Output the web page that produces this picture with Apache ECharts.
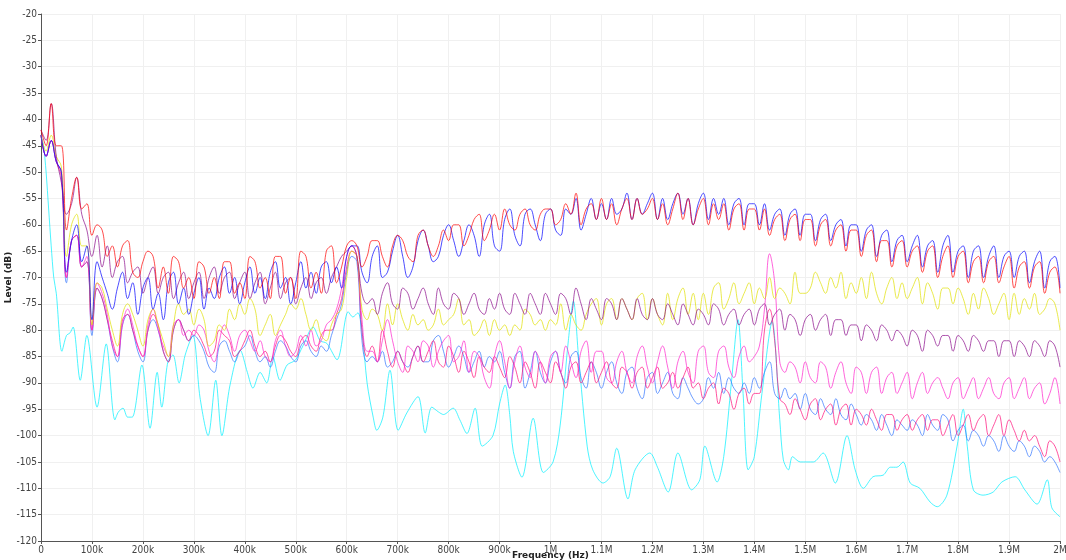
<!DOCTYPE html>
<html><head><meta charset="utf-8">
<script src="https://cdn.jsdelivr.net/npm/echarts@6/dist/echarts.min.js"></script>
<style>html,body{margin:0;padding:0;background:#fff}#c{width:1066px;height:560px}</style>
</head><body><div id="c"></div>
<script>
// Frequency step between samples (Hz) for the oscillating traces
const STEP = 10000;
const xTickLabels = ['0','100k','200k','300k','400k','500k','600k','700k','800k','900k','1M','1.1M','1.2M','1.3M','1.4M','1.5M','1.6M','1.7M','1.8M','1.9M','2M'];

const red = [
-42,-45,-37,-45,-45,-61,-55,-51,-57,-56,
-62,-60,-61,-66,-64,-68,-64,-63,-69,-70,
-67,-65,-66,-72,-68,-73,-66,-67,-72,-70,
-74,-67,-68,-73,-70,-74,-67,-67,-73,-71,
-74,-66,-67,-72,-70,-74,-66,-66,-73,-70,
-74,-65,-66,-72,-69,-73,-65,-64,-71,-68,
-64,-63,-64,-68,-66,-63,-63,-66,-68,-64,
-62,-63,-66,-67,-62,-61,-64,-66,-64,-61,
-63,-60,-60,-64,-62,-59,-58,-63,-61,-58,
-61,-57,-60,-61,-58,-57,-60,-61,-58,-57,
-57,-60,-59,-56,-58,-54,-60,-57,-56,-59,
-55,-59,-56,-60,-57,-55,-59,-55,-58,-57,
-55,-59,-56,-60,-57,-54,-59,-55,-60,-57,
-55,-60,-56,-59,-56,-61,-57,-56,-61,-57,
-57,-61,-57,-62,-59,-58,-63,-59,-58,-63,
-59,-59,-64,-60,-59,-64,-61,-60,-65,-61,
-61,-66,-62,-61,-67,-63,-63,-68,-64,-63,
-68,-65,-64,-69,-65,-64,-70,-66,-64,-70,
-66,-65,-71,-67,-66,-71,-67,-66,-71,-68,
-66,-72,-68,-67,-72,-68,-67,-73,-69,-68,
-73];

const blue = [
-43,-47,-44,-48,-50,-69,-63,-60,-67,-64,
-78,-67,-70,-73,-76,-72,-69,-74,-71,-77,
-72,-70,-76,-73,-78,-71,-69,-75,-72,-77,
-73,-70,-76,-72,-74,-70,-68,-73,-70,-75,
-71,-68,-73,-70,-74,-69,-67,-72,-70,-75,
-71,-67,-72,-69,-73,-68,-67,-71,-68,-72,
-66,-64,-64,-69,-71,-66,-64,-70,-69,-65,
-62,-66,-70,-68,-63,-61,-64,-67,-66,-62,
-60,-63,-66,-63,-60,-62,-66,-60,-58,-64,
-65,-59,-57,-62,-64,-58,-57,-60,-63,-58,
-57,-61,-62,-57,-58,-55,-61,-58,-55,-59,
-56,-59,-55,-58,-57,-54,-59,-55,-58,-56,
-54,-59,-55,-59,-56,-54,-58,-55,-60,-56,
-54,-59,-55,-58,-55,-60,-56,-55,-60,-56,
-56,-60,-56,-61,-58,-57,-62,-58,-57,-62,
-58,-58,-63,-59,-58,-63,-60,-59,-64,-60,
-60,-65,-61,-60,-66,-62,-61,-67,-63,-62,
-67,-64,-62,-68,-64,-63,-69,-64,-62,-69,
-65,-64,-70,-65,-64,-70,-66,-64,-70,-66,
-65,-70,-66,-65,-71,-67,-65,-72,-67,-66,
-72];

const purple = [
-42,-44,-37,-47,-52,-58,-56,-51,-58,-61,
-66,-62,-68,-64,-70,-67,-66,-71,-69,-68,
-73,-70,-68,-73,-70,-69,-74,-71,-69,-74,
-71,-69,-74,-70,-68,-73,-70,-69,-74,-71,
-69,-74,-71,-69,-75,-72,-69,-74,-71,-70,
-75,-72,-70,-74,-71,-70,-73,-70,-68,-66,
-65,-64,-66,-73,-75,-74,-77,-73,-71,-75,
-76,-72,-73,-76,-74,-72,-75,-77,-72,-75,
-76,-73,-74,-77,-75,-73,-76,-77,-74,-76,
-73,-76,-77,-73,-75,-77,-73,-75,-77,-73,
-75,-77,-73,-74,-77,-72,-75,-78,-74,-76,
-78,-74,-75,-78,-74,-76,-78,-74,-77,-78,
-74,-77,-78,-75,-77,-79,-75,-77,-79,-76,
-77,-79,-75,-76,-79,-77,-76,-79,-77,-76,
-79,-76,-75,-79,-77,-76,-80,-77,-78,-81,
-78,-77,-80,-78,-77,-81,-78,-78,-81,-79,
-79,-82,-79,-80,-82,-79,-80,-82,-80,-81,
-83,-80,-81,-84,-80,-81,-83,-81,-81,-84,
-81,-82,-84,-81,-82,-84,-82,-82,-85,-82,
-82,-85,-82,-83,-85,-82,-83,-85,-82,-83,
-87];

const yellow = [
-43,-46,-43,-47,-49,-66,-60,-58,-64,-64,
-79,-71,-72,-76,-80,-83,-77,-75,-77,-80,
-83,-78,-76,-79,-82,-85,-79,-75,-77,-76,
-79,-76,-78,-83,-82,-79,-80,-76,-78,-75,
-77,-74,-76,-81,-79,-77,-81,-79,-77,-75,
-76,-74,-77,-80,-78,-81,-82,-79,-77,-76,
-70,-65,-66,-76,-78,-76,-77,-80,-75,-79,
-75,-78,-80,-77,-79,-78,-80,-79,-76,-79,
-78,-77,-74,-79,-78,-81,-80,-78,-81,-78,
-80,-79,-81,-79,-80,-76,-77,-79,-78,-80,
-78,-79,-75,-80,-77,-79,-80,-77,-75,-74,
-79,-75,-74,-78,-74,-76,-78,-74,-73,-78,
-74,-77,-79,-73,-78,-74,-72,-77,-73,-78,
-73,-77,-72,-71,-76,-74,-71,-75,-73,-71,
-75,-72,-74,-70,-74,-72,-73,-75,-69,-73,
-73,-72,-69,-71,-73,-70,-72,-69,-74,-71,
-73,-70,-74,-69,-73,-75,-72,-70,-74,-71,
-74,-72,-70,-75,-71,-73,-76,-72,-72,-75,
-72,-74,-77,-73,-76,-72,-74,-77,-75,-73,
-78,-73,-77,-74,-76,-73,-77,-76,-74,-75,
-80];

const magenta = [
-43,-47,-44,-48,-50,-70,-63,-62,-68,-66,
-80,-71,-73,-77,-83,-85,-79,-76,-79,-83,
-85,-79,-76,-80,-83,-85,-79,-78,-81,-80,
-81,-79,-80,-84,-86,-82,-79,-81,-84,-81,
-80,-82,-84,-82,-85,-86,-82,-80,-83,-85,
-84,-81,-83,-80,-83,-82,-79,-78,-76,-72,
-66,-64,-66,-78,-84,-84,-86,-82,-78,-82,
-86,-88,-83,-84,-86,-82,-83,-87,-84,-82,
-81,-86,-85,-82,-88,-84,-85,-89,-91,-85,
-82,-86,-91,-86,-83,-87,-89,-84,-86,-90,
-85,-84,-88,-83,-86,-89,-84,-82,-88,-84,
-84,-89,-90,-86,-84,-88,-90,-85,-83,-87,
-90,-86,-83,-87,-91,-86,-84,-88,-90,-84,
-83,-88,-89,-84,-83,-87,-89,-85,-83,-86,
-85,-83,-76,-65.5,-71,-86,-88,-86,-87,-90,
-86,-89,-90,-86,-87,-91,-88,-86,-90,-92,
-87,-88,-92,-88,-87,-92,-89,-88,-92,-90,
-88,-93,-90,-88,-92,-90,-89,-91,-93,-90,
-89,-93,-91,-89,-93,-91,-89,-92,-93,-90,
-89,-93,-91,-89,-93,-91,-90,-94,-92,-89,
-94];

const crimson = [
-43,-47,-44,-48,-51,-70,-63,-62,-68,-67,
-80,-72,-74,-78,-82,-85,-78,-77,-80,-83,
-85,-80,-77,-79,-84,-86,-80,-78,-80,-82,
-80,-81,-83,-85,-84,-80,-81,-82,-85,-84,
-82,-80,-83,-85,-84,-86,-83,-81,-82,-84,
-85,-82,-81,-83,-84,-81,-80,-80,-77,-74,
-68,-65,-66,-80,-85,-83,-86,-80,-84,-87,
-84,-86,-88,-85,-83,-86,-84,-82,-86,-87,
-83,-85,-88,-84,-86,-89,-85,-87,-88,-85,
-87,-89,-85,-87,-90,-86,-88,-91,-86,-88,
-90,-86,-88,-91,-87,-86,-90,-88,-86,-90,
-88,-86,-90,-91,-87,-88,-91,-88,-87,-91,
-89,-87,-91,-90,-88,-91,-89,-87,-91,-90,
-93,-91,-90,-94,-91,-92,-95,-92,-91,-94,
-92,-92,-80,-76,-82,-93,-94,-96,-93,-95,
-97,-94,-93,-97,-95,-94,-98,-95,-94,-98,
-95,-96,-98,-95,-97,-99,-96,-96,-99,-97,
-96,-99,-97,-96,-99,-97,-97,-100,-98,-96,
-100,-98,-96,-99,-97,-96,-100,-98,-96,-100,
-97,-99,-101,-99,-101,-100,-102,-104,-101,-102,
-105];

const cornflower = [
-43,-47,-44,-48,-50,-71,-63,-62,-68,-67,
-81,-72,-74,-78,-83,-86,-79,-77,-80,-84,
-86,-80,-78,-80,-84,-86,-80,-78,-80,-82,
-81,-82,-84,-87,-88,-83,-82,-84,-86,-84,
-83,-81,-84,-86,-85,-87,-84,-82,-83,-85,
-86,-83,-82,-84,-85,-83,-84,-81,-78,-75,
-69,-66,-67,-82,-86,-85,-86,-84,-87,-86,
-84,-86,-87,-85,-83,-86,-86,-82,-81,-84,
-87,-85,-83,-85,-88,-86,-84,-87,-85,-86,
-84,-88,-91,-85,-84,-91,-88,-84,-88,-90,
-86,-84,-88,-90,-85,-84,-89,-91,-86,-88,
-91,-88,-86,-90,-92,-88,-87,-91,-93,-89,
-88,-92,-90,-88,-92,-93,-89,-91,-93,-94,
-93,-89,-91,-88,-92,-89,-91,-92,-90,-92,
-89,-91,-88,-86,-92,-93,-91,-93,-92,-95,
-92,-95,-96,-93,-95,-96,-93,-96,-97,-94,
-96,-98,-96,-97,-99,-96,-98,-100,-97,-98,
-99,-97,-98,-100,-96,-98,-99,-96,-97,-101,
-99,-98,-101,-99,-100,-102,-100,-101,-103,-100,
-102,-103,-101,-102,-104,-102,-103,-105,-104,-105,
-107];

// cyan trace: frequency (kHz) and level (dB)
const cyanFreqK = [0,5,10,15,20,25,30,41,50,57,63,77,90,110,128,145,152,161,170,179,198,214,228,237,249,259,271,283,298,312,328,343,355,371,391,405,416,430,443,455,469,483,499,514,534,548,561,581,603,612,622,630,640,652,659,671,685,701,718,740,754,767,780,790,809,822,836,852,866,887,900,911,920,927,944,966,986,1005,1019,1035,1045,1055,1072,1083,1103,1117,1130,1152,1166,1195,1210,1231,1250,1277,1293,1303,1327,1340,1355,1368,1378,1388,1400,1415,1435,1450,1457,1467,1475,1490,1516,1535,1559,1582,1598,1614,1633,1653,1667,1680,1692,1706,1725,1745,1759,1778,1798,1810,1818,1830,1849,1869,1886,1912,1931,1955,1975,1984,2000];
const cyanLevel = [-43,-45,-50,-57,-64,-70,-73,-84,-81,-80.5,-79.4,-89.5,-81,-94.6,-82.6,-97,-95.5,-94.8,-96.5,-96.5,-86.6,-98.6,-88,-94.6,-86,-84.7,-90,-84.7,-81,-92.7,-100,-89.5,-100,-90.4,-83.8,-88,-91,-88,-90,-85,-89.5,-86.6,-85.7,-83,-79.4,-82,-82.5,-85.6,-76.5,-77.5,-76.7,-80,-90,-96.5,-99,-96.5,-87.6,-99,-95.7,-92.6,-99.5,-94.6,-95.5,-96,-94.8,-97,-99.6,-94.8,-102,-100,-94,-90.4,-96,-103,-107.9,-96.7,-107,-105,-98,-82,-74.5,-85,-102,-106.5,-109,-107.8,-102.4,-112,-106.5,-103.3,-106,-110.7,-103.3,-110.3,-108.4,-102,-108.8,-104,-90,-78,-92,-106.5,-104,-92,-78.4,-97,-104.6,-106.5,-104,-105,-105,-103.3,-109,-100,-106.5,-110,-107.8,-107.5,-106,-106,-105,-109,-110,-112.6,-113.5,-111.3,-102,-95,-102,-110.3,-111.3,-110.7,-108.8,-107.8,-110.3,-113,-108.4,-113.7,-115.4];

const toPairs = arr => arr.map((v, i) => [i * STEP, v]);
const cyanPairs = cyanFreqK.map((f, i) => [f * 1000, cyanLevel[i]]);

const traces = [
  {name: 'cyan', data: cyanPairs, color: '#00f0ff', smooth: 0.3},
  {name: 'cornflower', data: toPairs(cornflower), color: '#2f74ff', smooth: 0.4},
  {name: 'crimson', data: toPairs(crimson), color: '#ff0a78', smooth: 0.4},
  {name: 'magenta', data: toPairs(magenta), color: '#ff22cc', smooth: 0.4},
  {name: 'yellow', data: toPairs(yellow), color: '#e0e000', smooth: 0.4},
  {name: 'purple', data: toPairs(purple), color: '#8a0a8a', smooth: 0.4},
  {name: 'blue', data: toPairs(blue), color: '#0000ff', smooth: 0.4},
  {name: 'red', data: toPairs(red), color: '#ff0000', smooth: 0.4}
];

const fmtX = v => {
  const i = Math.round(v / 100000);
  return xTickLabels[i] !== undefined ? xTickLabels[i] : '';
};

const chart = echarts.init(document.getElementById('c'), null, {renderer: 'canvas'});
chart.setOption({
  animation: false,
  backgroundColor: '#ffffff',
  grid: {left: 41, right: 6, top: 14, bottom: 19, containLabel: false, outerBoundsMode: 'none'},
  xAxis: {
    type: 'value', min: 0, max: 2000000, interval: 100000,
    name: 'Frequency (Hz)', nameLocation: 'middle', nameGap: 10, nameMoveOverlap: false,
    nameTextStyle: {fontSize: 9, fontWeight: 'bold', color: '#222', fontFamily: 'DejaVu Sans', verticalAlign: 'top'},
    axisLine: {lineStyle: {color: '#555', width: 1}},
    axisTick: {show: true, length: 3, lineStyle: {color: '#555'}},
    axisLabel: {formatter: fmtX, fontSize: 10, color: '#444', margin: 4, fontFamily: 'DejaVu Sans Condensed'},
    splitLine: {show: true, lineStyle: {color: '#f0f0f0', width: 1}}
  },
  yAxis: {
    type: 'value', min: -120, max: -20, interval: 5,
    name: 'Level (dB)', nameLocation: 'middle', nameGap: 28, nameRotate: 90, nameMoveOverlap: false,
    nameTextStyle: {fontSize: 9, fontWeight: 'bold', color: '#222', fontFamily: 'DejaVu Sans'},
    axisLine: {show: true, lineStyle: {color: '#555', width: 1}},
    axisTick: {show: true, length: 3, lineStyle: {color: '#555'}},
    axisLabel: {fontSize: 10, color: '#444', margin: 4, fontFamily: 'DejaVu Sans Condensed'},
    splitLine: {show: true, lineStyle: {color: '#f0f0f0', width: 1}}
  },
  series: traces.map(t => ({
    name: t.name, type: 'line', data: t.data, smooth: t.smooth,
    showSymbol: false, symbol: 'none',
    lineStyle: {color: t.color, width: 1, opacity: 0.7},
    itemStyle: {color: t.color}
  }))
});
</script>
</body></html>
